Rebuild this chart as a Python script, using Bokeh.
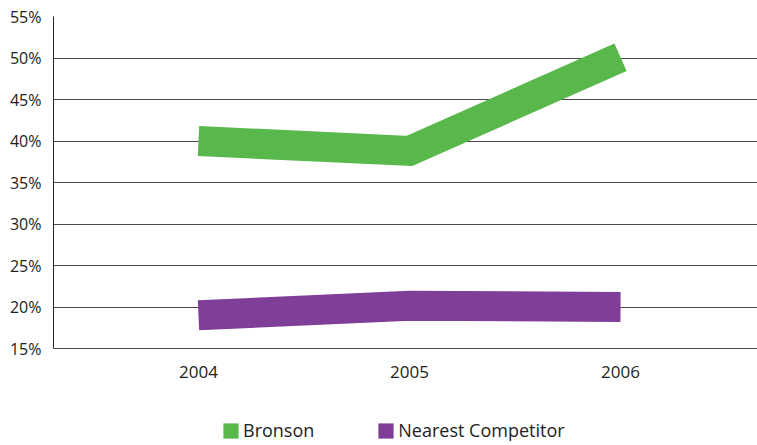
from bokeh.plotting import figure
from bokeh.layouts import column
from bokeh.models import FixedTicker, Range1d, Legend, LegendItem
from bokeh.embed import file_html
from bokeh.resources import INLINE

# ---- data ----
years = ["2004", "2005", "2006"]
x_pos = [1, 2, 3]
bronson = [40.0, 38.8, 50.1]
competitor = [19.0, 20.15, 20.0]
y_ticks = [15, 20, 25, 30, 35, 40, 45, 50, 55]
y_tick_labels = ["15%", "20%", "25%", "30%", "35%", "40%", "45%", "50%", "55%"]
series_names = ["Bronson", "Nearest Competitor"]
series_colors = ["#58B84B", "#7F3F98"]

FONT = "Open Sans"
TXT = "#222222"
GRID = "#4a4a4a"
NAN = float("nan")

p = figure(width=757, height=415, output_backend="svg", toolbar_location=None,
           x_range=Range1d(0.313, 3.649), y_range=Range1d(15, 55),
           min_border_left=53, min_border_right=0, min_border_top=16,
           min_border_bottom=67)
p.outline_line_color = None
p.background_fill_color = "white"
p.border_fill_color = "white"

# lines
p.line(x_pos, bronson, line_color=series_colors[0], line_width=30,
       line_join="miter", line_cap="butt")
p.line(x_pos, competitor, line_color=series_colors[1], line_width=30,
       line_join="miter", line_cap="butt")

# y axis
yax = p.yaxis[0]
yax.ticker = FixedTicker(ticks=y_ticks)
yax.major_label_overrides = {t: l for t, l in zip(y_ticks, y_tick_labels)}
yax.major_tick_line_color = None
yax.minor_tick_line_color = None
yax.major_tick_out = 0
yax.major_label_standoff = 12
yax.axis_line_color = "#222222"
yax.major_label_text_font = FONT
yax.major_label_text_font_size = "16px"
yax.major_label_text_color = TXT

# x axis
xax = p.xaxis[0]
xax.ticker = FixedTicker(ticks=x_pos)
xax.major_label_overrides = {x: y for x, y in zip(x_pos, years)}
xax.major_tick_line_color = None
xax.minor_tick_line_color = None
xax.major_tick_out = 0
xax.major_label_standoff = 17
xax.axis_line_color = GRID
xax.major_label_text_font = FONT
xax.major_label_text_font_size = "17px"
xax.major_label_text_color = TXT

# grid
p.xgrid.grid_line_color = None
p.ygrid.ticker = FixedTicker(ticks=y_ticks)
p.ygrid.grid_line_color = GRID
p.ygrid.grid_line_width = 1

# legend strip
lg = figure(width=757, height=30, output_backend="svg", toolbar_location=None,
            x_range=Range1d(0, 1), y_range=Range1d(0, 1),
            x_axis_location=None, y_axis_location=None,
            min_border_left=0, min_border_right=0, min_border_top=0,
            min_border_bottom=0)
lg.outline_line_color = None
lg.xgrid.grid_line_color = None
lg.ygrid.grid_line_color = None
q1 = lg.quad(left=[NAN], right=[NAN], top=[NAN], bottom=[NAN],
             fill_color=series_colors[0], line_color=None)
q2 = lg.quad(left=[NAN], right=[NAN], top=[NAN], bottom=[NAN],
             fill_color=series_colors[1], line_color=None)
legend = Legend(items=[LegendItem(label=series_names[0], renderers=[q1]),
                       LegendItem(label=series_names[1], renderers=[q2])],
                orientation="horizontal", location=(168, 3),
                glyph_width=19, glyph_height=19, label_height=19,
                label_standoff=3, spacing=62, padding=0, margin=0,
                border_line_color=None, background_fill_alpha=0,
                label_text_font=FONT, label_text_font_size="18px",
                label_text_color=TXT)
lg.add_layout(legend, "center")

layout = column(p, lg, spacing=0)
open("out.html", "w").write(file_html(layout, INLINE))
